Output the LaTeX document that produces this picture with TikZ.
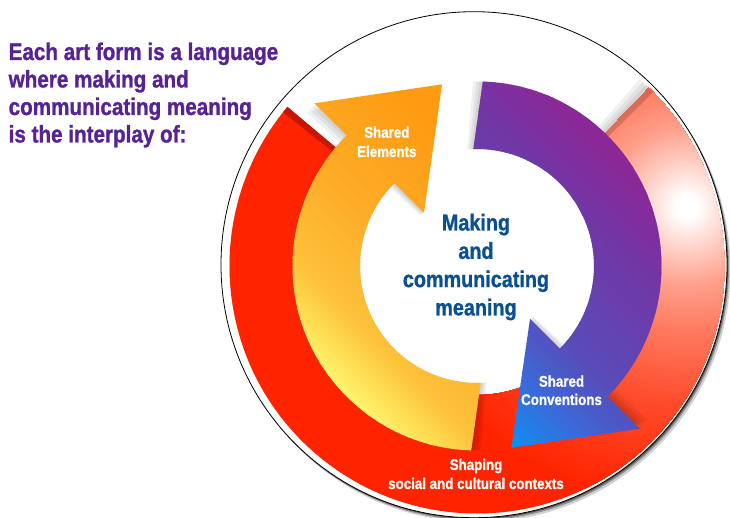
\documentclass[tikz,border=0pt]{standalone}
\usepackage{fontspec}
\setmainfont{Liberation Sans}[FakeStretch=0.86]
\newfontfamily\heavy{Liberation Sans Bold}[FakeStretch=0.86, FakeBold=1.1]
\usetikzlibrary{calc}

% palette
\definecolor{headpurple}{RGB}{86,34,148}
\definecolor{coreblue}{RGB}{10,80,145}
\definecolor{ringred}{RGB}{255,36,0}
\definecolor{ringdark}{RGB}{196,22,0}
\definecolor{glowA}{RGB}{255,214,206}
\definecolor{glowB}{RGB}{255,160,140}
\definecolor{glowC}{RGB}{255,122,96}
\definecolor{glowD}{RGB}{255,74,42}
\definecolor{yelA}{RGB}{255,246,112}
\definecolor{yelB}{RGB}{254,223,85}
\definecolor{yelC}{RGB}{253,194,58}
\definecolor{yelD}{RGB}{253,174,42}
\definecolor{yelE}{RGB}{255,154,16}
\definecolor{purA}{RGB}{12,146,244}
\definecolor{purB}{RGB}{60,104,216}
\definecolor{purC}{RGB}{90,75,184}
\definecolor{purD}{RGB}{113,55,166}
\definecolor{purE}{RGB}{138,40,152}

% ring shapes, centred on the origin
\newcommand{\redpath}{(140:129pt) -- (140:247.5pt)
  arc[start angle=140, end angle=406, radius=247.5pt] -- (406:129pt)
  arc[start angle=406, end angle=140, radius=129pt] -- cycle}
\newcommand{\yelpath}{(268.2:184.5pt)
  arc[start angle=268.2, end angle=135, radius=184.5pt] -- (135:230pt)
  -- (100.9:185pt) -- (135:75pt) -- (135:117pt)
  arc[start angle=135, end angle=271.8, radius=117pt] -- cycle}
\newcommand{\purpath}{(88.2:184.5pt)
  arc[start angle=88.2, end angle=-45, radius=184.5pt] -- (-45:230pt)
  -- (-79.3:185pt) -- (-45:75pt) -- (-45:117pt)
  arc[start angle=-45, end angle=91.8, radius=117pt] -- cycle}

% diagonal colour bands: from #1 to #2 (measured along the up-right diagonal),
% colour #3 blending into #4 over #5 steps
\newcommand{\bandrun}[5]{%
  \foreach \i in {0,...,#5}{%
    \pgfmathsetmacro{\pp}{#1+(#2-#1)*\i/#5}%
    \pgfmathsetmacro{\mm}{100*\i/#5}%
    \fill[#4!\mm!#3, rotate=-45]
      (-330,\pp) -- (330,\pp) -- (330,\pp+3) -- (-330,\pp+3) -- cycle;
  }}
% concentric discs around the highlight: radius #1 down to #2, colour #3 into #4
\newcommand{\glowrun}[5]{%
  \foreach \i in {0,...,#5}{%
    \pgfmathsetmacro{\rr}{#1+(#2-#1)*\i/#5}%
    \pgfmathsetmacro{\mm}{100*\i/#5}%
    \fill[#4!\mm!#3] (glow) circle (\rr pt);
  }}

\tikzset{
  heading/.style={font=\heavy\fontsize{24}{28}\selectfont, text=headpurple,
    anchor=base west, inner sep=0pt},
  core/.style={font=\heavy\fontsize{23}{28}\selectfont, text=coreblue,
    anchor=base, inner sep=0pt},
  ringlabel/.style={font=\heavy\fontsize{15.5}{19}\selectfont, text=white,
    anchor=base, inner sep=0pt},
  softshade/.style={black, opacity=0.06}
}

\begin{document}
\begin{tikzpicture}[x=1pt, y=1pt]
  \useasboundingbox (-477,-252) rectangle (253,266);
  \fill[white] (-477,-252) rectangle (253,266);

  \coordinate (ring) at (0,0);
  \coordinate (disc) at (-3,1.3);
  \coordinate (glow) at (210,59);

  % white plate with its drop shadow
  \fill[black, opacity=0.18] ($(disc)+(3.5,-4.5)$) circle (253pt);
  \fill[black, opacity=0.30] ($(disc)+(2,-2.6)$) circle (253pt);
  \fill[black, opacity=0.45] ($(disc)+(1,-1.2)$) circle (253pt);
  \filldraw[fill=white, draw=black, line width=0.8pt] (disc) circle (253pt);

  % outer ring: shadow, base colour, highlight, end faces
  \foreach \a in {1,2,3} {\fill[softshade, rotate=\a] \redpath;}
  \fill[ringred] \redpath;
  \begin{scope}
    \clip \redpath;
    \glowrun{300}{200}{ringred}{glowD}{40}
    \glowrun{200}{125}{glowD}{glowC}{30}
    \glowrun{125}{80}{glowC}{glowB}{20}
    \glowrun{80}{40}{glowB}{glowA}{20}
    \glowrun{40}{12}{glowA}{white}{14}
  \end{scope}
  \fill[ringdark] (140:129pt) -- (140:247.5pt)
    arc[start angle=140, end angle=141.6, radius=247.5pt] -- (141.6:129pt) -- cycle;
  \fill[black, opacity=0.16] (44.6:129pt) -- (44.6:247.5pt)
    arc[start angle=44.6, end angle=46, radius=247.5pt] -- (46:129pt) -- cycle;

  % yellow arrow
  \foreach \a in {1,2,3} {\fill[softshade, rotate=\a] \yelpath;}
  \begin{scope}
    \clip \yelpath;
    \fill[yelA, rotate=-45] (-330,-260) rectangle (330,-185);
    \bandrun{-185}{-160}{yelA}{yelB}{10}
    \bandrun{-160}{-125}{yelB}{yelC}{14}
    \bandrun{-125}{-50}{yelC}{yelD}{30}
    \bandrun{-50}{70}{yelD}{yelE}{45}
    \bandrun{70}{200}{yelE}{yelE}{45}
  \end{scope}

  % purple arrow
  \foreach \a in {1,2,3} {\fill[softshade, rotate=\a] \purpath;}
  \begin{scope}
    \clip \purpath;
    \fill[purA, rotate=-45] (-330,-200) rectangle (330,-110);
    \bandrun{-110}{-45}{purA}{purB}{26}
    \bandrun{-45}{10}{purB}{purC}{22}
    \bandrun{10}{110}{purC}{purD}{40}
    \bandrun{110}{170}{purD}{purE}{24}
    \bandrun{170}{200}{purE}{purE}{12}
  \end{scope}

  % heading
  \node[heading] (h1) at (-468.5,206) {Each art form is a language};
  \node[heading] (h2) at (-468.5,178.5) {where making and};
  \node[heading] (h3) at (-468.5,151) {communicating meaning};
  \node[heading] (h4) at (-468.5,123.5) {is the interplay of:};

  % centre
  \node[core] (c1) at (-1,35.5) {Making};
  \node[core] (c2) at (-1,7.2) {and};
  \node[core] (c3) at (-1,-21.1) {communicating};
  \node[core] (c4) at (-1,-49.4) {meaning};

  % ring labels
  \node[ringlabel] (e1) at (-90.2,128.3) {Shared};
  \node[ringlabel] (e2) at (-90.2,109) {Elements};
  \node[ringlabel] (v1) at (84.5,-120.7) {Shared};
  \node[ringlabel] (v2) at (84.5,-139) {Conventions};
  \node[ringlabel] (s1) at (-1,-204) {Shaping};
  \node[ringlabel] (s2) at (-1,-223) {social and cultural contexts};
\end{tikzpicture}
\end{document}
